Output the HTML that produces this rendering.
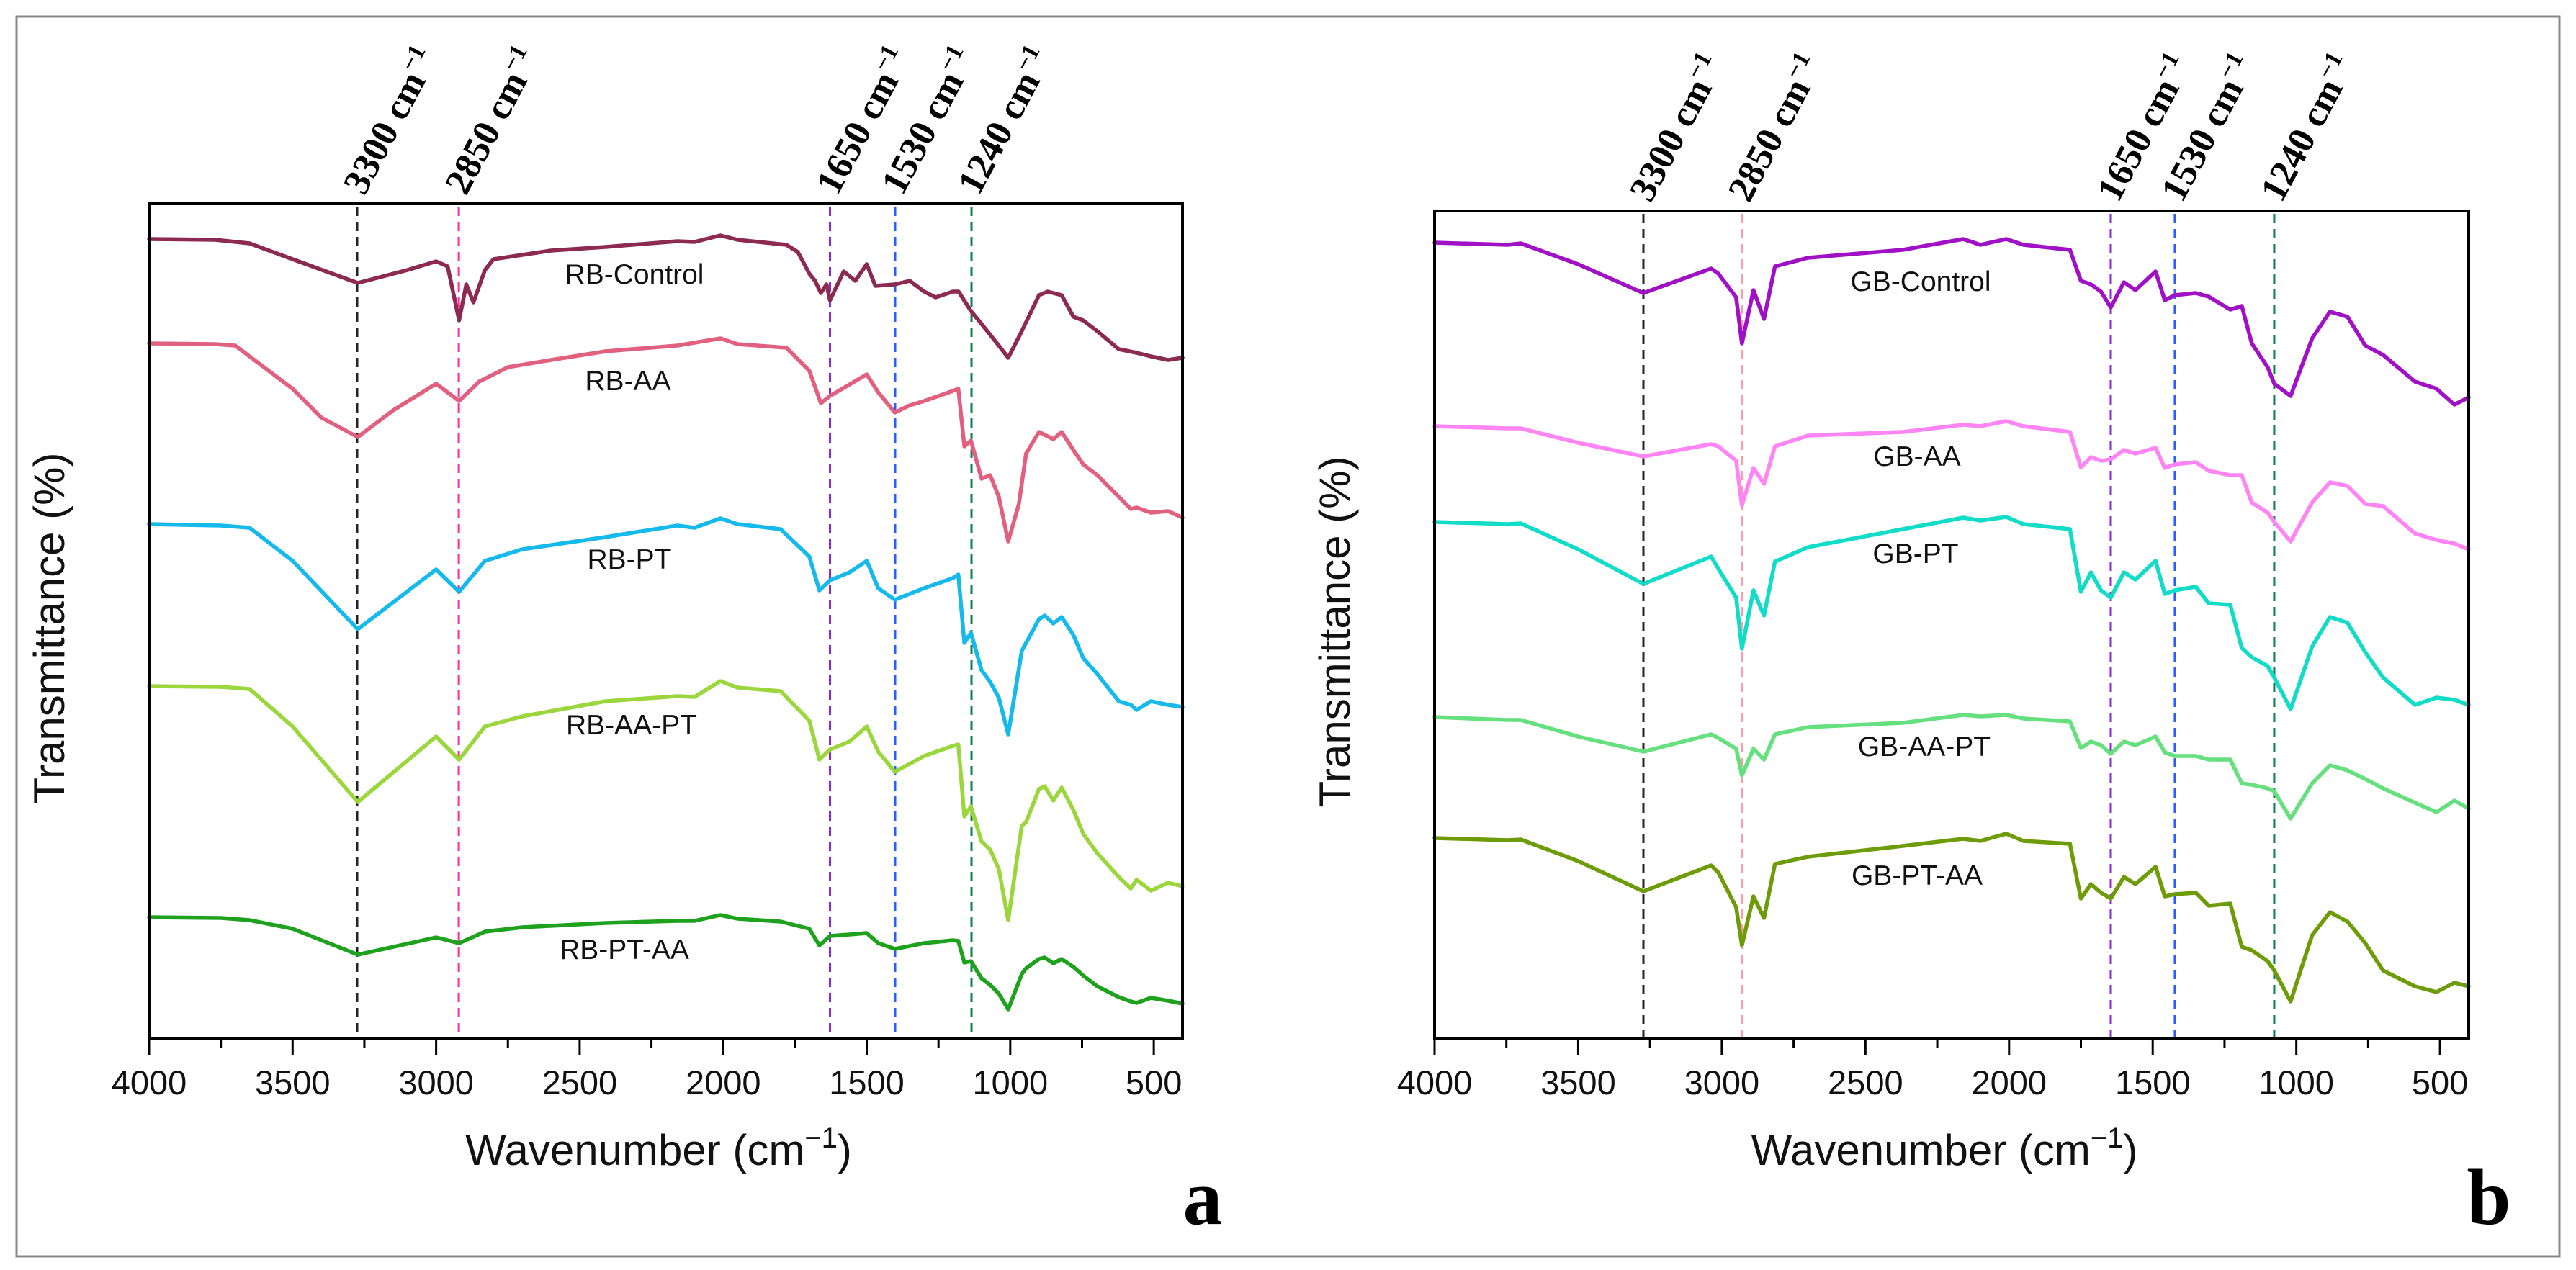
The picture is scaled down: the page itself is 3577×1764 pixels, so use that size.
<!DOCTYPE html>
<html><head><meta charset="utf-8"><title>FTIR spectra</title>
<style>
html,body{margin:0;padding:0;background:#fff;}
svg{display:block;}
.tick{font-family:"Liberation Sans",Arial,sans-serif;font-size:47px;fill:#111;}
.axt{font-family:"Liberation Sans",Arial,sans-serif;font-size:60px;fill:#111;}
.ser{font-family:"Liberation Sans",Arial,sans-serif;font-size:39px;fill:#111;}
.ann{font-family:"Liberation Serif","Times New Roman",serif;font-size:52px;font-weight:bold;fill:#000;}
.pl{font-family:"Liberation Serif","Times New Roman",serif;font-size:110px;font-weight:bold;fill:#000;}
</style></head>
<body>
<svg id="fig" width="3577" height="1764" viewBox="0 0 3577 1764" xmlns="http://www.w3.org/2000/svg">
<rect x="23" y="23" width="3531" height="1722" fill="none" stroke="#888" stroke-width="3"/>
<g id="gA"></g>
<g id="gB"></g>
</svg>
<script>
// ---------- data ----------
const xTickLabels = ["4000","3500","3000","2500","2000","1500","1000","500"];
const xTickValues = [4000,3500,3000,2500,2000,1500,1000,500];
const xMinorValues = [3750,3250,2750,2250,1750,1250,750];
const annLabels = ["3300","2850","1650","1530","1240"];
const annWnA = [3275,2921,1628,1401,1135];
const annWnB = [3273,2930,1646,1423,1077];
const annColorsA = ["#222","#ff2aa0","#8a2ad0","#2a5cff","#0a8050"];
const annColorsB = ["#222","#ff9aa8","#8a2ad0","#2a5cff","#0a8050"];

const rbControlWn = [4000,3770,3650,3500,3273,3100,3000,2960,2920,2895,2870,2830,2800,2600,2410,2160,2100,2010,1950,1780,1740,1700,1680,1660,1640,1628,1580,1540,1500,1470,1402,1350,1300,1260,1200,1180,1137,1100,1040,1007,960,900,870,821,780,746,697,622,560,510,450,400];
const rbControlT = [111.0,110.9,110.4,108.2,104.9,106.7,107.9,107.2,99.7,104.7,102.2,106.7,108.2,109.4,109.9,110.7,110.6,111.5,110.9,110.2,109.2,106.2,105.2,103.5,104.7,102.5,106.5,105.2,107.5,104.5,104.7,105.2,103.7,102.9,103.7,103.7,101.0,99.2,96.2,94.5,98.2,103.2,103.7,103.2,100.2,99.7,98.2,95.7,95.2,94.7,94.2,94.5];
const rbAAWn = [4000,3770,3700,3500,3400,3273,3150,3000,2920,2850,2750,2600,2410,2160,2010,1950,1780,1700,1660,1628,1500,1460,1402,1350,1300,1200,1181,1160,1137,1100,1070,1040,1007,970,945,900,850,821,780,746,697,622,580,560,510,450,400];
const rbAAT = [96.5,96.4,96.2,90.2,86.2,83.5,87.2,90.9,88.5,91.2,93.2,94.2,95.4,96.2,97.2,96.4,95.9,92.7,88.2,89.2,92.2,89.7,86.9,87.9,88.5,89.9,90.2,82.2,83.0,77.7,78.2,75.2,69.0,74.2,81.2,84.2,83.2,84.2,81.7,79.7,78.2,75.2,73.5,73.7,73.0,73.2,72.3];
const rbLowWn = [4000,3750,3650,3500,3273,3000,2920,2830,2700,2410,2160,2100,2010,1950,1800,1700,1665,1628,1560,1500,1460,1402,1300,1200,1181,1160,1137,1100,1070,1040,1007,960,945,900,880,850,821,780,746,697,622,580,560,510,450,400];
const rbPTT = [71.4,71.2,70.9,66.3,56.8,65.1,62.0,66.3,67.9,69.6,71.2,70.9,72.2,71.4,70.7,66.9,62.2,63.6,64.7,66.3,62.5,60.9,62.5,63.9,64.4,54.9,56.3,51.1,49.5,47.3,42.2,53.8,54.9,58.2,58.7,57.6,58.5,56.0,52.8,50.6,46.8,46.3,45.6,46.8,46.3,46.0];
const rbAAPTT = [48.9,48.8,48.5,43.3,32.8,41.9,38.7,43.3,44.7,46.8,47.5,47.4,49.6,48.7,48.2,44.1,38.7,40.1,41.2,43.3,39.8,37.0,39.2,40.6,40.8,30.8,32.2,27.3,26.2,23.5,16.4,29.5,30.0,34.6,35.0,33.0,34.8,31.7,28.4,25.7,22.4,20.8,22.0,20.5,21.6,21.1];
const rbPTAAT = [16.8,16.7,16.4,15.2,11.6,14.0,13.2,14.8,15.4,16.0,16.3,16.3,17.1,16.6,16.2,15.2,12.9,14.2,14.4,14.6,13.2,12.4,13.2,13.6,13.5,10.5,10.7,8.3,7.4,6.2,4.0,8.9,9.7,11.0,11.2,10.4,11.0,9.9,8.7,7.2,5.7,5.1,4.9,5.6,5.2,4.8];

const gbWn = [4000,3745,3700,3500,3273,3037,3012,2950,2930,2890,2853,2815,2700,2370,2160,2100,2010,1950,1788,1750,1715,1680,1646,1600,1560,1490,1458,1423,1350,1305,1230,1190,1155,1100,1077,1020,945,883,822,760,698,587,512,450,400];
const gbControlT = [110.5,110.2,110.4,107.5,103.5,106.9,106.2,102.9,96.5,103.9,99.9,107.2,108.4,109.5,111.0,110.2,111.0,110.2,109.5,105.2,104.7,103.7,101.5,105.0,103.9,106.5,102.5,103.2,103.5,103.0,101.2,101.7,96.5,93.2,90.9,89.2,97.2,100.9,100.2,96.2,94.9,91.2,90.2,88.0,89.0];
const gbAAT = [85.0,84.7,84.7,82.7,80.8,82.5,82.2,80.2,74.0,79.2,77.0,82.2,83.7,84.2,85.2,85.0,85.7,85.0,84.2,79.3,80.7,80.2,80.4,81.7,81.2,82.0,79.2,79.7,80.0,78.8,78.2,78.2,74.4,73.0,71.7,69.0,74.4,77.2,76.7,74.2,73.9,70.1,69.2,68.7,67.9];
const gbPTT = [71.7,71.4,71.5,67.9,63.1,66.9,65.2,61.2,54.1,62.2,58.7,66.2,68.2,70.7,72.3,71.9,72.4,71.4,70.7,62.0,64.7,62.2,61.2,64.7,63.7,66.3,61.7,62.2,62.7,60.4,60.2,54.2,52.9,51.7,50.1,45.7,54.4,58.5,57.7,53.6,50.1,46.3,47.3,47.0,46.3];
const gbAAPTT = [44.6,44.2,44.2,41.9,39.8,42.2,41.7,40.2,36.5,40.2,38.7,42.2,43.2,43.8,44.9,44.7,44.9,44.4,44.0,40.3,41.2,40.7,39.5,41.2,40.7,41.9,39.7,39.2,39.2,38.7,38.7,35.4,35.2,34.7,34.3,30.5,35.4,37.9,37.2,36.0,34.7,32.7,31.4,33.0,31.9];
const gbPTAAT = [27.8,27.5,27.6,24.6,20.4,24.0,23.0,18.2,12.9,19.7,16.7,24.2,25.2,26.7,27.7,27.4,28.4,27.4,27.0,19.4,21.4,20.2,19.4,22.4,21.4,23.8,19.7,20.0,20.2,18.4,18.7,12.7,12.2,10.7,9.4,5.1,14.3,17.5,16.2,13.2,9.4,7.2,6.4,7.7,7.2];

const seriesNamesA = ["RB-Control","RB-AA","RB-PT","RB-AA-PT","RB-PT-AA"];
const seriesNamesB = ["GB-Control","GB-AA","GB-PT","GB-AA-PT","GB-PT-AA"];

// ---------- drawing ----------
const NS = "http://www.w3.org/2000/svg";
function mk(tag, attrs, parent){
  const e = document.createElementNS(NS, tag);
  for (const k in attrs) e.setAttribute(k, attrs[k]);
  parent.appendChild(e);
  return e;
}
function slug(s){return s.toLowerCase().replace(/[^a-z0-9]+/g,'-');}

function drawPanel(g, P, series, annWn, annColors, letter){
  const xS = wn => P.L + (4000 - wn) / 3600 * (P.R - P.L);
  const yMax = (P.B - P.T) / 10;
  const yS = v => P.B - v / yMax * (P.B - P.T);

  annWn.forEach((w, i) => {
    const ln = mk('line', {x1:xS(w), x2:xS(w), y1:P.T+4, y2:P.B-2, stroke:annColors[i], 'stroke-width':3, 'stroke-dasharray':'13 8'}, g);
    
    
    const tx = xS(w) + 10, ty = P.T - 10;
    const t = mk('text', {x:tx, y:ty, class:'ann', transform:'rotate(-62 '+tx+' '+ty+')'}, g);
    
    
    const s1 = mk('tspan', {}, t); s1.textContent = annLabels[i] + ' cm';
    const s2 = mk('tspan', {dy:-20, 'font-size':34}, t); s2.textContent = '\u22121';
  });

  series.forEach(s => {
    const pts = s.wn.map((w, i) => xS(w).toFixed(1) + ',' + yS(s.t[i]).toFixed(1)).join(' ');
    const pl = mk('polyline', {points:pts, fill:'none', stroke:s.color, 'stroke-width':5.5, 'stroke-linejoin':'round', 'stroke-linecap':'round'}, g);
    
    
    const lb = mk('text', {x:s.lx, y:s.ly, class:'ser', 'text-anchor':'middle'}, g);
    
    
    lb.textContent = s.name;
  });

  const fr = mk('rect', {x:P.L, y:P.T, width:P.R-P.L, height:P.B-P.T, fill:'none', stroke:'#000', 'stroke-width':4}, g);
  
  

  xTickValues.forEach((w, i) => {
    const tk = mk('line', {x1:xS(w), x2:xS(w), y1:P.B, y2:P.B+24, stroke:'#000', 'stroke-width':3}, g);
    
    
    const tl = mk('text', {x:xS(w), y:P.B+78, class:'tick', 'text-anchor':'middle'}, g);
    
    
    tl.textContent = xTickLabels[i];
  });
  xMinorValues.forEach(w => {
    const tk = mk('line', {x1:xS(w), x2:xS(w), y1:P.B, y2:P.B+13, stroke:'#000', 'stroke-width':3}, g);
    
    
  });

  const xt = mk('text', {x:(P.L+P.R)/2 - 10, y:1618, class:'axt', 'text-anchor':'middle'}, g);
  
  
  const a1 = mk('tspan', {}, xt); a1.textContent = 'Wavenumber (cm';
  const a2 = mk('tspan', {dy:-24, 'font-size':40}, xt); a2.textContent = '\u22121';
  const a3 = mk('tspan', {dy:24}, xt); a3.textContent = ')';
  const yx = P.L - 118, yy = (P.T + P.B) / 2 + 10;
  const yt = mk('text', {x:yx, y:yy, class:'axt', 'text-anchor':'middle', transform:'rotate(-90 '+yx+' '+yy+')'}, g);
  
  
  yt.textContent = 'Transmittance (%)';

  const pl = mk('text', {x:P.R + 28, y:1700, class:'pl', 'text-anchor':'middle'}, g);
  
  
  pl.textContent = letter;
}

const PA = {L:207, R:1642, T:283, B:1442};
const PB = {L:1992, R:3428, T:293, B:1442};

drawPanel(document.getElementById('gA'), PA, [
  {name:seriesNamesA[0], wn:rbControlWn, t:rbControlT, color:'#8c2a52', lx:881, ly:394},
  {name:seriesNamesA[1], wn:rbAAWn, t:rbAAT, color:'#e2607f', lx:872, ly:542},
  {name:seriesNamesA[2], wn:rbLowWn, t:rbPTT, color:'#16b9ec', lx:874, ly:790},
  {name:seriesNamesA[3], wn:rbLowWn, t:rbAAPTT, color:'#9bd63c', lx:877, ly:1020},
  {name:seriesNamesA[4], wn:rbLowWn, t:rbPTAAT, color:'#1ea21e', lx:867, ly:1332}
], annWnA, annColorsA, 'a');

drawPanel(document.getElementById('gB'), PB, [
  {name:seriesNamesB[0], wn:gbWn, t:gbControlT, color:'#a010c4', lx:2667, ly:404},
  {name:seriesNamesB[1], wn:gbWn, t:gbAAT, color:'#ff84f4', lx:2662, ly:647},
  {name:seriesNamesB[2], wn:gbWn, t:gbPTT, color:'#10dcc8', lx:2660, ly:782},
  {name:seriesNamesB[3], wn:gbWn, t:gbAAPTT, color:'#66e07e', lx:2672, ly:1050},
  {name:seriesNamesB[4], wn:gbWn, t:gbPTAAT, color:'#6e9c08', lx:2662, ly:1229}
], annWnB, annColorsB, 'b');
</script>
</body></html>
